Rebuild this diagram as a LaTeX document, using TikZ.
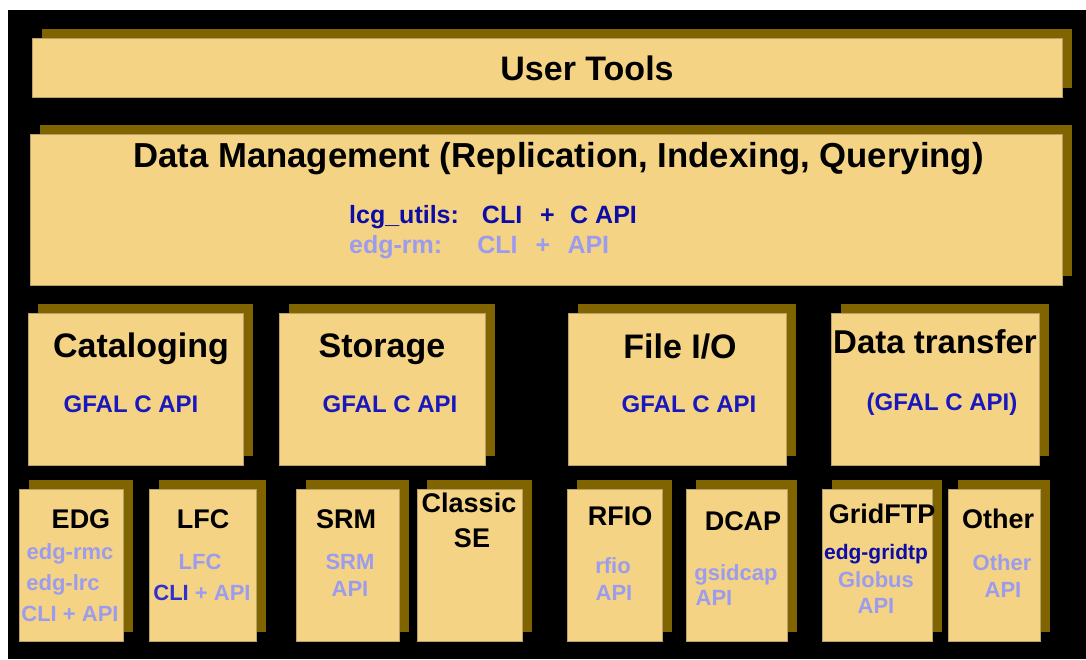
\documentclass[tikz,border=0pt]{standalone}
\usepackage{fontspec}
\setmainfont{Liberation Sans}
\usetikzlibrary{shadows}
\definecolor{facec}{HTML}{F4D384}
\definecolor{faceedge}{HTML}{B9A06A}
\definecolor{shadowc}{HTML}{7F6400}
\definecolor{lav}{HTML}{9C9CEE}
\definecolor{dkblue}{HTML}{0C0CA6}
\definecolor{gblue}{HTML}{1818BE}
\definecolor{mblue}{HTML}{3030CC}
\newcommand{\fs}[1]{\fontsize{#1}{#1}\selectfont\bfseries}
\tikzset{
  layerbox/.style={draw=faceedge, line width=0.5pt, fill=facec, anchor=north west,
    inner sep=0pt, outer sep=0pt,
    general shadow={fill=shadowc, shadow xshift=9.5pt, shadow yshift=9pt}},
  bigtitle/.style={anchor=base, inner sep=0pt, font=\fs{34}, text=black},
  subtitle/.style={anchor=base, inner sep=0pt, font=\fs{27}, text=black},
  gfal/.style={anchor=base, inner sep=0pt, font=\fs{24}, text=gblue},
  lavtxt/.style={anchor=base, inner sep=0pt, font=\fs{22}, text=lav},
}
\begin{document}
\begin{tikzpicture}[x=1pt, y=-1pt]
\fill[white] (0,0) rectangle (1086,659);
\fill[black] (8,10) rectangle (1086,659);
\useasboundingbox (0,0) rectangle (1086,659);
% boxes
\node[layerbox, minimum width=1030pt, minimum height=59pt] (ut) at (32,38) {};
\node[layerbox, minimum width=1032pt, minimum height=151pt] (dm) at (30,134) {};
\node[layerbox, minimum width=215pt, minimum height=152pt] (cat) at (28,313) {};
\node[layerbox, minimum width=206pt, minimum height=152pt] (sto) at (279,313) {};
\node[layerbox, minimum width=218pt, minimum height=152pt] (fio) at (568,313) {};
\node[layerbox, minimum width=208pt, minimum height=152pt] (dtr) at (831,313) {};
\node[layerbox, minimum width=104pt, minimum height=152pt] (edg) at (19,489) {};
\node[layerbox, minimum width=107pt, minimum height=152pt] (lfc) at (149,489) {};
\node[layerbox, minimum width=103pt, minimum height=152pt] (srm) at (296,489) {};
\node[layerbox, minimum width=105pt, minimum height=152pt] (cse) at (417,489) {};
\node[layerbox, minimum width=95pt, minimum height=152pt] (rfi) at (567,489) {};
\node[layerbox, minimum width=101pt, minimum height=152pt] (dca) at (686,489) {};
\node[layerbox, minimum width=110pt, minimum height=152pt] (gft) at (822,489) {};
\node[layerbox, minimum width=92pt, minimum height=152pt] (oth) at (948,489) {};
% top texts
\node[bigtitle] (utT) at (587,80) {User Tools};
\node[bigtitle, font=\fs{34.7}] (dmT) at (558.5,167) {Data Management (Replication, Indexing, Querying)};
\node[anchor=base west, inner sep=0pt, font=\fs{25}, text=dkblue] (lcg) at (349,223)
  {lcg\_utils:\hspace{23pt}CLI\hspace{18pt}+\hspace{15.4pt}C API};
\node[anchor=base west, inner sep=0pt, font=\fs{25}, text=lav] (edgrm) at (349,253)
  {edg-rm:\hspace{35pt}CLI\hspace{18pt}+\hspace{17.4pt}API};
% middle row
\node[bigtitle] (catT) at (141,357) {Cataloging};
\node[gfal] (catG) at (131,412) {GFAL C API};
\node[bigtitle] (stoT) at (382,357) {Storage};
\node[gfal] (stoG) at (390,412) {GFAL C API};
\node[bigtitle] (fioT) at (680,358) {File I/O};
\node[gfal] (fioG) at (689,412) {GFAL C API};
\node[bigtitle, font=\fs{33}] (dtrT) at (935,353) {Data transfer};
\node[gfal] (dtrG) at (942,410) {(GFAL C API)};
% bottom row
\node[subtitle] (edgT) at (81,528) {EDG};
\node[lavtxt] (edg1) at (70,559) {edg-rmc};
\node[lavtxt] (edg2) at (63,590) {edg-lrc};
\node[lavtxt] (edg3) at (70,621) {CLI + API};
\node[subtitle] (lfcT) at (203,528) {LFC};
\node[lavtxt] (lfc1) at (200,569) {LFC};
\node[lavtxt] (lfc2) at (202,600) {\textcolor{mblue}{CLI} + API};
\node[subtitle] (srmT) at (346,528) {SRM};
\node[lavtxt] (srm1) at (350,569) {SRM};
\node[lavtxt] (srm2) at (350,596) {API};
\node[subtitle] (cseT1) at (469,512) {Classic};
\node[subtitle] (cseT2) at (472,547) {SE};
\node[subtitle] (rfiT) at (620,525) {RFIO};
\node[lavtxt] (rfi1) at (613,573) {rfio};
\node[lavtxt] (rfi2) at (614,600) {API};
\node[subtitle] (dcaT) at (743,530) {DCAP};
\node[lavtxt] (dca1) at (736,580) {gsidcap};
\node[lavtxt] (dca2) at (714,605) {API};
\node[subtitle] (gftT) at (882,523) {GridFTP};
\node[lavtxt, text=dkblue, font=\fs{21}] (gft1) at (876,559) {edg-gridtp};
\node[lavtxt] (gft2) at (876,587) {Globus};
\node[lavtxt] (gft3) at (876,613) {API};
\node[subtitle] (othT) at (998,528) {Other};
\node[lavtxt] (oth1) at (1002,570) {Other};
\node[lavtxt] (oth2) at (1003,597) {API};
\end{tikzpicture}
\end{document}
